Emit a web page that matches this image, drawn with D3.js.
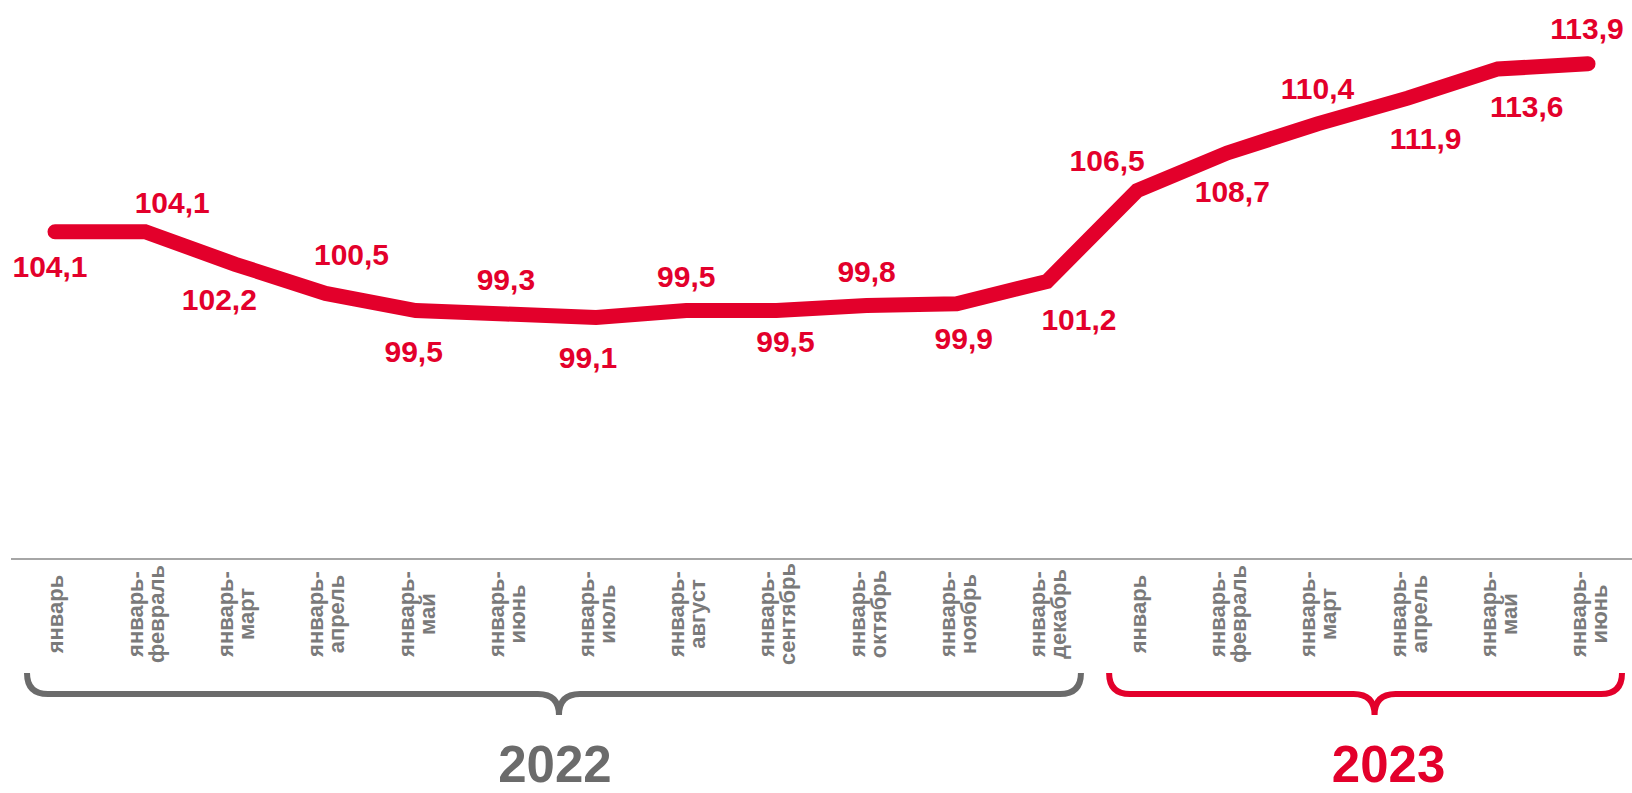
<!DOCTYPE html>
<html>
<head>
<meta charset="utf-8">
<script src="https://cdn.jsdelivr.net/npm/d3@7"></script>
<style>
  body { margin: 0; background: #fff; }
  svg { display: block; font-family: "Liberation Sans", Arial, sans-serif; font-weight: bold; }
</style>
</head>
<body>
<div id="chart"></div>
<script>
// Cumulative index, % to same period of previous year
const categories = [
    "январь", "январь-февраль", "январь-март", "январь-апрель", "январь-май", "январь-июнь",
    "январь-июль", "январь-август", "январь-сентябрь", "январь-октябрь", "январь-ноябрь", "январь-декабрь",
    "январь", "январь-февраль", "январь-март", "январь-апрель", "январь-май", "январь-июнь"
];
const values = [104.1, 104.1, 102.2, 100.5, 99.5, 99.3, 99.1, 99.5, 99.5, 99.8, 99.9, 101.2,
                106.5, 108.7, 110.4, 111.9, 113.6, 113.9];
const years = ["2022", "2023"];
const yearStart = [0, 12];
const yearEnd = [11, 17];

// label placement around each point (layout only)
const labelOffsets = [
    [-5, 34], [27, -30], [-16, 35], [26, -39], [-2, 41], [0, -35],
    [-8, 40], [0, -34], [9, 31], [0, -34], [7, 34], [32, 38],
    [-30, -30], [5, 38], [0, -36], [18, 40], [29, 37], [-1, -36]
];

const width = 1632, height = 793;
const red = "#e3002b", grey = "#6b6b6b";
const axisY = 559;

const svg = d3.select("#chart")
    .append("svg")
    .attr("width", width)
    .attr("height", height);

const x = d3.scalePoint()
    .domain(d3.range(values.length))
    .range([55, 1588]);

const y = d3.scaleLinear()
    .domain([85, 115])
    .range([axisY, 45]);

// x axis: baseline + rotated category labels
const axis = svg.append("g")
    .attr("transform", `translate(0,${axisY})`)
    .call(d3.axisBottom(x).tickSize(0).tickFormat(""));
axis.select(".domain").remove();

svg.append("line")
    .attr("x1", 11).attr("x2", width)
    .attr("y1", axisY).attr("y2", axisY)
    .attr("stroke", "#a6a6a6")
    .attr("stroke-width", 2);

axis.selectAll(".tick").each(function(i) {
    const parts = categories[i].includes("-")
        ? [categories[i].split("-")[0] + "-", categories[i].split("-")[1]]
        : [categories[i]];
    const t = d3.select(this).append("text")
        .attr("transform", "rotate(-90)")
        .attr("text-anchor", "middle")
        .attr("fill", "#7a7a7a")
        .attr("font-size", 22);
    parts.forEach((p, k) => {
        t.append("tspan")
            .attr("x", -55)
            .attr("y", (k - (parts.length - 1) / 2) * 21)
            .attr("dy", "0.36em")
            .text(p);
    });
});

// line
const line = d3.line()
    .x((d, i) => x(i))
    .y(d => y(d));

svg.append("path")
    .datum(values)
    .attr("fill", "none")
    .attr("stroke", red)
    .attr("stroke-width", 15)
    .attr("stroke-linecap", "round")
    .attr("stroke-linejoin", "miter")
    .attr("d", line);

// value labels
svg.append("g")
    .selectAll("text")
    .data(values)
    .join("text")
    .attr("x", (d, i) => x(i) + labelOffsets[i][0])
    .attr("y", (d, i) => y(d) + labelOffsets[i][1])
    .attr("dy", "0.36em")
    .attr("text-anchor", "middle")
    .attr("fill", red)
    .attr("font-size", 30)
    .text(d => d.toFixed(1).replace(".", ","));

// year braces
const braceTop = 673, braceMid = 694, braceTip = 715, r = 21;
const braceColors = [grey, red];
const tipShift = [5, 9];
const textShift = [1, 23];

years.forEach((yr, g) => {
    const left = x(yearStart[g]) - 28;
    const right = x(yearEnd[g]) + 34;
    const tip = (left + right) / 2 + tipShift[g];
    const p = d3.path();
    p.moveTo(left, braceTop);
    p.quadraticCurveTo(left, braceMid, left + r, braceMid);
    p.lineTo(tip - r, braceMid);
    p.quadraticCurveTo(tip, braceMid, tip, braceTip);
    p.quadraticCurveTo(tip, braceMid, tip + r, braceMid);
    p.lineTo(right - r, braceMid);
    p.quadraticCurveTo(right, braceMid, right, braceTop);

    svg.append("path")
        .attr("d", p.toString())
        .attr("fill", "none")
        .attr("stroke", braceColors[g])
        .attr("stroke-width", 6);

    svg.append("text")
        .attr("x", tip + textShift[g] - tipShift[g])
        .attr("y", 782)
        .attr("text-anchor", "middle")
        .attr("fill", braceColors[g])
        .attr("font-size", 51)
        .text(yr);
});
</script>
</body>
</html>
